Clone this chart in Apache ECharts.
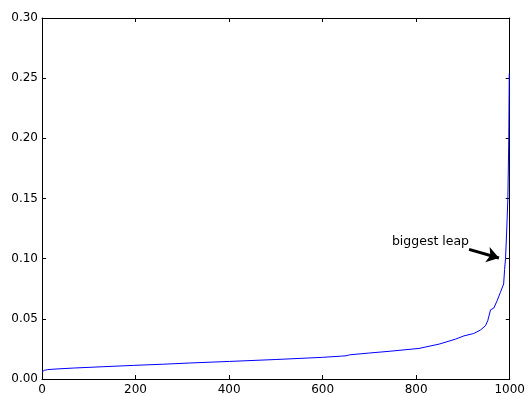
<!DOCTYPE html>
<html>
<head>
<meta charset="utf-8">
<script src="https://cdn.jsdelivr.net/npm/echarts@6/dist/echarts.min.js"></script>
<style>html,body{margin:0;padding:0;background:#fff}#c{width:528px;height:396px}</style>
</head>
<body>
<div id="c"></div>
<script>
// sorted values: rank (x) and value (y)
var ranks  = [0, 5, 12, 30, 67, 130, 195, 260, 316, 401, 500, 600, 640, 650, 658, 700, 742, 806, 849, 884, 902, 923, 937, 948, 953, 959, 966, 973, 980, 987, 989, 991, 993, 996, 998, 999];
var values = [0.0058, 0.0072, 0.0078, 0.0083, 0.0091, 0.0102, 0.0113, 0.0123, 0.0133, 0.0146, 0.0162, 0.0180, 0.0190, 0.0193, 0.0201, 0.0216, 0.0230, 0.0254, 0.0290, 0.0331, 0.0358, 0.0378, 0.0406, 0.0442, 0.0484, 0.0575, 0.0590, 0.0650, 0.0720, 0.0790, 0.0910, 0.1000, 0.1180, 0.1500, 0.2000, 0.2540];
var xTicks = [0, 200, 400, 600, 800, 1000];
var yTicks = [0.00, 0.05, 0.10, 0.15, 0.20, 0.25, 0.30];
// annotation
var annText = 'biggest leap';
var arrowFrom = [913, 0.1077];
var arrowTo = [977, 0.1006];
var annTextAt = [913, 0.1138];

var FONT = 'DejaVu Sans';
var chart = echarts.init(document.getElementById('c'), null, {renderer: 'canvas'});
var pts = ranks.map(function (r, i) { return [r, values[i]]; });

function xAxisCfg(pos, show) {
  return {
    type: 'value', position: pos, min: xTicks[0], max: xTicks[xTicks.length - 1],
    interval: xTicks[1] - xTicks[0],
    axisLine: {show: true, onZero: false, lineStyle: {color: '#000', width: 1}},
    axisTick: {show: true, inside: true, length: 4, lineStyle: {color: '#000'}},
    axisLabel: {show: show, margin: 5, color: '#000', fontFamily: FONT, fontSize: 12,
      formatter: function (v) { return String(v); }},
    splitLine: {show: false}
  };
}
function yAxisCfg(pos, show) {
  return {
    type: 'value', position: pos, min: yTicks[0], max: yTicks[yTicks.length - 1],
    interval: 0.05,
    axisLine: {show: true, onZero: false, lineStyle: {color: '#000', width: 1}},
    axisTick: {show: true, inside: true, length: 4, lineStyle: {color: '#000'}},
    axisLabel: {show: show, margin: 4, color: '#000', fontFamily: FONT, fontSize: 12,
      formatter: function (v) { return v.toFixed(2); }},
    splitLine: {show: false}
  };
}

chart.setOption({
  animation: false,
  backgroundColor: '#fff',
  grid: {left: 42, right: 17, top: 18, bottom: 16, containLabel: false},
  xAxis: [xAxisCfg('bottom', true), xAxisCfg('top', false)],
  yAxis: [yAxisCfg('left', true), yAxisCfg('right', false)],
  series: [{
    type: 'line', data: pts, xAxisIndex: 0, yAxisIndex: 0,
    showSymbol: false, symbol: 'none',
    lineStyle: {color: '#0000ff', width: 1},
    markLine: {
      silent: true, animation: false,
      symbol: ['none', 'arrow'], symbolSize: 12,
      itemStyle: {color: '#000'},
      lineStyle: {color: '#000', width: 3, type: 'solid'},
      label: {show: false},
      data: [[{coord: arrowFrom}, {coord: arrowTo}]]
    },
    markPoint: {
      silent: true, animation: false,
      symbol: 'circle', symbolSize: 0,
      data: [{coord: annTextAt,
        label: {show: true, formatter: annText, position: 'left', distance: 0,
          color: '#000', fontFamily: FONT, fontSize: 12.5}}]
    }
  }]
});
</script>
</body>
</html>
